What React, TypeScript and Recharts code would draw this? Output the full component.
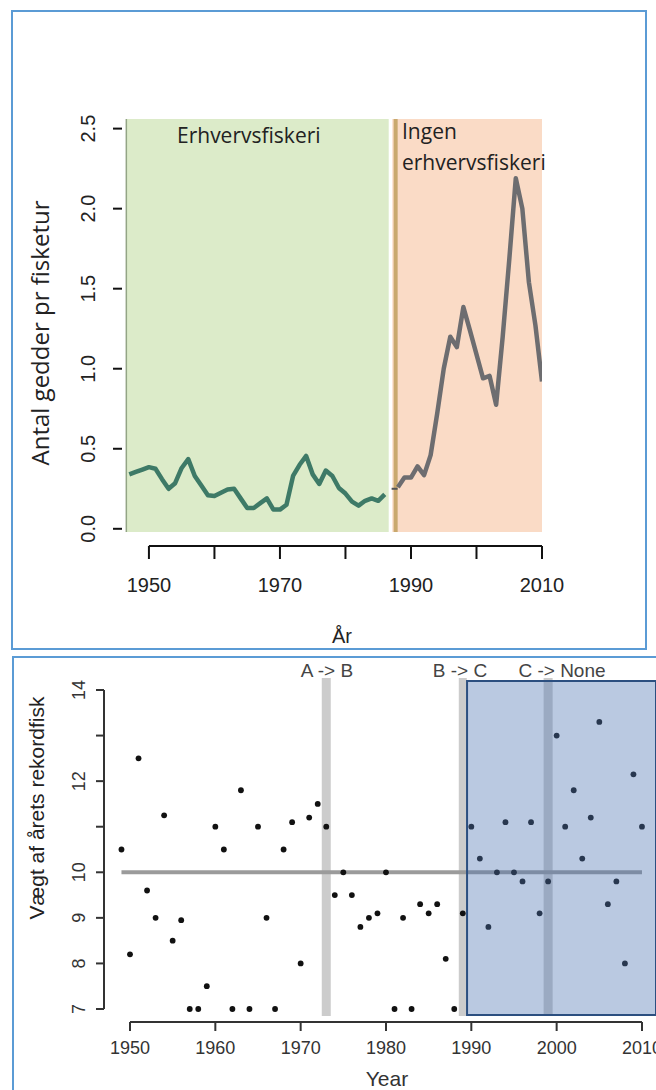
import React from 'react';
import {
  ComposedChart,
  ScatterChart,
  Line,
  Scatter,
  XAxis,
  YAxis,
  ReferenceArea,
  ReferenceLine,
} from 'recharts';

// top panel: pike per fishing trip
const fisheryYears = [
  1947, 1948, 1949, 1950, 1951, 1952, 1953, 1954, 1955, 1956, 1957, 1958, 1959, 1960, 1961, 1962,
  1963, 1964, 1965, 1966, 1967, 1968, 1969, 1970, 1971, 1972, 1973, 1974, 1975, 1976, 1977, 1978,
  1979, 1980, 1981, 1982, 1983, 1984, 1985, 1986,
];
const fisheryCatch = [
  0.34, 0.355, 0.37, 0.385, 0.375, 0.31, 0.25, 0.285, 0.38, 0.435, 0.33, 0.27, 0.21, 0.205, 0.225, 0.245,
  0.25, 0.19, 0.13, 0.13, 0.16, 0.19, 0.12, 0.12, 0.15, 0.33, 0.4, 0.455, 0.34, 0.28, 0.364, 0.33,
  0.255, 0.22, 0.17, 0.145, 0.175, 0.19, 0.175, 0.215,
];
const closureYears = [1987.5];
const closureCatch = [0.25];
const noFisheryYears = [
  1988, 1989, 1990, 1991, 1992, 1993, 1994, 1995, 1996, 1997, 1998, 1999, 2000, 2001, 2002, 2003,
  2004, 2005, 2006, 2007, 2008, 2009, 2010,
];
const noFisheryCatch = [
  0.26, 0.32, 0.32, 0.39, 0.335, 0.46, 0.72, 1.0, 1.2, 1.135, 1.385, 1.24, 1.09, 0.94, 0.955, 0.775,
  1.2, 1.68, 2.19, 2.0, 1.54, 1.27, 0.92,
];
const topYTicks = [0, 0.5, 1, 1.5, 2, 2.5];
const topXTicks = [1950, 1960, 1970, 1980, 1990, 2000, 2010];
const topXLabels = [1950, 1970, 1990, 2010];

// bottom panel: weight of the year's record fish
const recordYears = [
  1949, 1950, 1951, 1952, 1953, 1954, 1955, 1956, 1957, 1958, 1959, 1960, 1961, 1962, 1963, 1964,
  1965, 1966, 1967, 1968, 1969, 1970, 1971, 1972, 1973, 1974, 1975, 1976, 1977, 1978, 1979, 1980,
  1981, 1982, 1983, 1984, 1985, 1986, 1987, 1988, 1989, 1990, 1991, 1992, 1993, 1994, 1995, 1996,
  1997, 1998, 1999, 2000, 2001, 2002, 2003, 2004, 2005, 2006, 2007, 2008, 2009, 2010,
];
const recordWeights = [
  10.5, 8.2, 12.5, 9.6, 9.0, 11.25, 8.5, 8.95, 7.0, 7.0, 7.5, 11.0, 10.5, 7.0, 11.8, 7.0,
  11.0, 9.0, 7.0, 10.5, 11.1, 8.0, 11.2, 11.5, 11.0, 9.5, 10.0, 9.5, 8.8, 9.0, 9.1, 10.0,
  7.0, 9.0, 7.0, 9.3, 9.1, 9.3, 8.1, 7.0, 9.1, 11.0, 10.3, 8.8, 10.0, 11.1, 10.0, 9.8,
  11.1, 9.1, 9.8, 13.0, 11.0, 11.8, 10.3, 11.2, 13.3, 9.3, 9.8, 8.0, 12.15, 11.0,
];
const bottomYTicks = [7, 8, 9, 10, 11, 12, 13, 14];
const bottomYLabels = [7, 8, 9, 10, 12, 14];
const bottomXTicks = [1950, 1960, 1970, 1980, 1990, 2000, 2010];
const changeYears = [1973, 1989, 1999];
const changeLabels = ['A -> B', 'B -> C', 'C -> None'];
const meanWeight = 10;

const AXIS_FONT = '"Liberation Sans", Arial, Helvetica, sans-serif';
const NOTE_FONT = '"Open Sans", "Noto Sans", sans-serif';

const topData = [
  ...fisheryYears.map((year, i) => ({ year, fishery: fisheryCatch[i] })),
  ...closureYears.map((year, i) => ({ year, closure: closureCatch[i] })),
  ...noFisheryYears.map((year, i) => ({ year, noFishery: noFisheryCatch[i] })),
];
const recordData = recordYears.map((year, i) => ({ year, weight: recordWeights[i] }));

const TopXTick = (props: any) => {
  const { x, y, payload } = props;
  return (
    <g>
      <line x1={x} x2={x} y1={y + 14} y2={y + 27} stroke="#111" strokeWidth={2} />
      {topXLabels.includes(payload.value) && (
        <text x={x} y={y + 53} textAnchor="middle" dominantBaseline="central" fontSize={20} fontFamily={AXIS_FONT} fill="#222">
          {payload.value}
        </text>
      )}
    </g>
  );
};

const TopYTick = (props: any) => {
  const { x, y, payload } = props;
  const lx = x - 38;
  return (
    <g>
      <line x1={x - 13} x2={x - 4} y1={y} y2={y} stroke="#111" strokeWidth={2} />
      <text x={lx} y={y} transform={`rotate(-90 ${lx} ${y})`} textAnchor="middle" dominantBaseline="central" fontSize={20} fontFamily={AXIS_FONT} fill="#222">
        {payload.value.toFixed(1)}
      </text>
    </g>
  );
};

const BottomXTick = (props: any) => {
  const { x, y, payload } = props;
  return (
    <g>
      <line x1={x} x2={x} y1={y + 6} y2={y + 15} stroke="#333" strokeWidth={2} />
      <text x={x} y={y + 32} textAnchor="middle" dominantBaseline="central" fontSize={18} fontFamily={AXIS_FONT} fill="#333">
        {payload.value}
      </text>
    </g>
  );
};

const BottomYTick = (props: any) => {
  const { x, y, payload } = props;
  const lx = x - 25;
  return (
    <g>
      <line x1={x - 8} x2={x} y1={y} y2={y} stroke="#333" strokeWidth={2} />
      {bottomYLabels.includes(payload.value) && (
        <text x={lx} y={y} transform={`rotate(-90 ${lx} ${y})`} textAnchor="middle" dominantBaseline="central" fontSize={18} fontFamily={AXIS_FONT} fill="#333">
          {payload.value}
        </text>
      )}
    </g>
  );
};

const ClosureDot = (props: any) => {
  const { cx, cy, value } = props;
  if (value == null || cx == null || cy == null) return null;
  return <line key={props.key} x1={cx - 3} x2={cx + 3} y1={cy} y2={cy} stroke="#555" strokeWidth={2} />;
};

const RecordDot = (props: any) => <circle cx={props.cx} cy={props.cy} r={2.9} fill="#111" />;

const Note = ({ x, y, size, font, color = '#222', center = false, rotate = false, children }: any) => (
  <div
    style={{
      position: 'absolute',
      left: x,
      top: y,
      transform: `translate(${center || rotate ? '-50%' : '0'}, -50%)${rotate ? ' rotate(-90deg)' : ''}`,
      fontSize: size,
      fontFamily: font,
      color,
      lineHeight: 1,
      whiteSpace: 'nowrap',
    }}
  >
    {children}
  </div>
);

const TopChart = () => (
  <ComposedChart width={656} height={600} data={topData} margin={{ top: 119, right: 114, bottom: 0, left: 0 }}>
    <XAxis
      dataKey="year"
      type="number"
      domain={[1946.5, 2010]}
      ticks={topXTicks}
      interval={0}
      allowDataOverflow
      axisLine={false}
      tickLine={false}
      tickSize={0}
      tickMargin={0}
      height={68}
      tick={<TopXTick />}
    />
    <YAxis
      type="number"
      domain={[-0.02, 2.56]}
      ticks={topYTicks}
      interval={0}
      allowDataOverflow
      axisLine={false}
      tickLine={false}
      tickSize={0}
      tickMargin={0}
      width={126}
      tick={<TopYTick />}
    />
    <ReferenceArea x1={1946.5} x2={1986.6} y1={-0.02} y2={2.56} fill="#dcebc9" fillOpacity={1} stroke="none" zIndex={100} />
    <ReferenceArea x1={1987.15} x2={2010} y1={-0.02} y2={2.56} fill="#fadbc6" fillOpacity={1} stroke="none" zIndex={101} />
    <ReferenceLine x={1946.55} stroke="#93a585" strokeWidth={1.5} zIndex={102} />
    <ReferenceLine x={1987.66} stroke="#c9a96e" strokeWidth={4} zIndex={103} />
    <ReferenceLine
      segment={[{ x: 1950, y: -0.1075 }, { x: 2010, y: -0.1075 }]}
      ifOverflow="visible"
      stroke="#111"
      strokeWidth={2}
      zIndex={104}
    />
    <Line dataKey="fishery" stroke="#3e7a67" strokeWidth={4.5} dot={false} isAnimationActive={false} strokeLinejoin="round" zIndex={400} />
    <Line dataKey="noFishery" stroke="#6d6d70" strokeWidth={4.5} dot={false} isAnimationActive={false} strokeLinejoin="round" zIndex={401} />
    <Line dataKey="closure" stroke="none" dot={ClosureDot} activeDot={false} isAnimationActive={false} zIndex={402} />
  </ComposedChart>
);

const BottomChart = () => (
  <ScatterChart width={656} height={440} margin={{ top: 28, right: 0, bottom: 0, left: 0 }}>
    <XAxis
      dataKey="year"
      type="number"
      domain={[1946.953, 2011.643]}
      ticks={bottomXTicks}
      interval={0}
      allowDataOverflow
      axisLine={false}
      tickLine={false}
      tickSize={0}
      tickMargin={0}
      height={74}
      tick={<BottomXTick />}
    />
    <YAxis
      dataKey="weight"
      type="number"
      domain={[6.8464, 14.2633]}
      ticks={bottomYTicks}
      interval={0}
      allowDataOverflow
      axisLine={false}
      tickLine={false}
      tickSize={0}
      tickMargin={0}
      width={104}
      tick={<BottomYTick />}
    />
    <ReferenceLine segment={[{ x: 1946.953, y: 7 }, { x: 1946.953, y: 14 }]} ifOverflow="visible" stroke="#333" strokeWidth={2} zIndex={100} />
    <ReferenceLine segment={[{ x: 1950, y: 6.7147 }, { x: 2010, y: 6.7147 }]} ifOverflow="visible" stroke="#333" strokeWidth={2} zIndex={101} />
    {changeYears.map((yr, i) => (
      <ReferenceLine key={yr} x={yr} stroke="#cccccc" strokeWidth={i === 1 ? 8 : 9} zIndex={110 + i} />
    ))}
    <ReferenceLine segment={[{ x: 1949, y: meanWeight }, { x: 2010, y: meanWeight }]} stroke="#9b9b9b" strokeWidth={4} zIndex={120} />
    <Scatter data={recordData} dataKey="weight" shape={RecordDot} isAnimationActive={false} zIndex={600} />
    <ReferenceArea
      x1={1989.5}
      x2={2011.643}
      y1={6.868}
      y2={14.2}
      fill="#4d73b3"
      fillOpacity={0.39}
      stroke="#2c4f80"
      strokeWidth={2}
      zIndex={900}
    />
  </ScatterChart>
);

export default function App() {
  return (
    <div style={{ position: 'absolute', left: 0, top: 0, width: 656, height: 1090, overflow: 'hidden', background: '#fff' }}>
      <div style={{ position: 'absolute', left: 11, top: 10, width: 636, height: 640, border: '2px solid #5b9bd5', boxSizing: 'border-box' }} />
      <div style={{ position: 'absolute', left: 12, top: 656, width: 700, height: 500, border: '2px solid #5b9bd5', boxSizing: 'border-box' }} />
      <div style={{ position: 'absolute', left: 0, top: 0 }}>
        <TopChart />
      </div>
      <div style={{ position: 'absolute', left: 0, top: 650 }}>
        <BottomChart />
      </div>

      <Note x={177} y={135} size={21} font={NOTE_FONT}>Erhvervsfiskeri</Note>
      <Note x={402} y={131} size={21} font={NOTE_FONT}>Ingen</Note>
      <Note x={402} y={162} size={21} font={NOTE_FONT}>erhvervsfiskeri</Note>
      <Note x={40} y={333} size={24} font={NOTE_FONT} rotate>Antal gedder pr fisketur</Note>
      <Note x={342} y={636} size={20} font={AXIS_FONT} center>År</Note>

      {changeLabels.map((label, i) => (
        <Note key={label} x={[327, 460, 562][i]} y={670} size={19} font={AXIS_FONT} color="#444" center>
          {label}
        </Note>
      ))}
      <Note x={36} y={808} size={21} font={AXIS_FONT} color="#222" rotate>Vægt af årets rekordfisk</Note>
      <Note x={387} y={1078} size={21} font={AXIS_FONT} color="#333" center>Year</Note>
    </div>
  );
}
